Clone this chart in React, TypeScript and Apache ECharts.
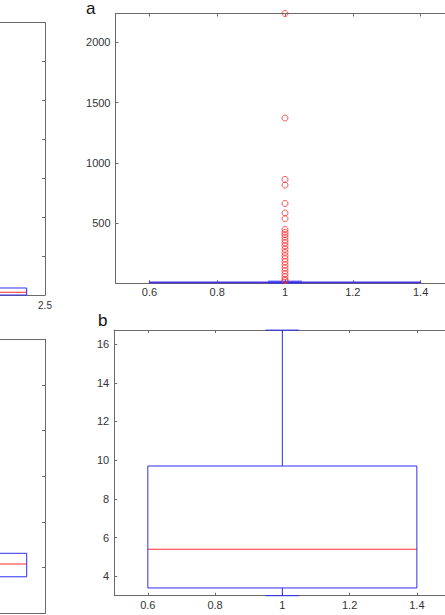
import React, { useEffect, useRef } from "react";
import * as echarts from "echarts";

// Tick positions and labels
const xTicks = [0.6, 0.8, 1, 1.2, 1.4];
const yTicksA = [500, 1000, 1500, 2000];
const yTicksB = [4, 6, 8, 10, 12, 14, 16];
const xLabelsLeft = [2.5];

// Box statistics: [group, lower whisker, Q1, median, Q3, upper whisker]
const boxStats = [1, 3.0, 3.4, 5.4, 9.7, 16.72];
// Values beyond the whiskers (panel a)
const outliers = [
  2240, 1372, 862, 815, 662, 583, 536, 446, 423, 404, 383, 358, 336, 311,
  283, 256, 228, 203, 178, 152, 127, 103, 78, 54, 31, 22,
];
const yMaxA = 2240;
const yRangeB = [3.0, 16.72];

// Neighbouring panels, second group of each
const leftTopBox = [2, 0, 0, 35, 90, 160];
const leftBottomBox = [2, 3.2, 4.0, 5.4, 6.57, 8.0];

const AXIS = "#6a6a6a";
const LABEL = "#333333";
const BLUE = "#2f2ff5";
const RED = "#ff2a2a";
const FONT = "Liberation Sans, Arial, Helvetica, sans-serif";
const BOX_HALF = 0.4;
const CAP_HALF = 0.05;

const renderBox = (_params: any, api: any) => {
  const x = api.value(0);
  const lo = api.value(1);
  const q1 = api.value(2);
  const med = api.value(3);
  const q3 = api.value(4);
  const hi = api.value(5);
  const c = (vx: number, vy: number) => api.coord([vx, vy]);
  const line = (a: number[], b: number[], color: string) => ({
    type: "line",
    shape: { x1: a[0], y1: a[1], x2: b[0], y2: b[1] },
    style: { stroke: color, lineWidth: 1 },
  });
  const tl = c(x - BOX_HALF, q3);
  const br = c(x + BOX_HALF, q1);
  return {
    type: "group",
    children: [
      line(c(x - BOX_HALF, med), c(x + BOX_HALF, med), RED),
      line(c(x, q3), c(x, hi), BLUE),
      line(c(x, q1), c(x, lo), BLUE),
      line(c(x - CAP_HALF, hi), c(x + CAP_HALF, hi), BLUE),
      line(c(x - CAP_HALF, lo), c(x + CAP_HALF, lo), BLUE),
      {
        type: "rect",
        shape: { x: tl[0], y: tl[1], width: br[0] - tl[0], height: br[1] - tl[1] },
        style: { fill: "none", stroke: BLUE, lineWidth: 1 },
      },
    ],
  };
};

const tickStyle = (values?: number[]) => ({
  show: true,
  inside: true,
  length: 3,
  lineStyle: { color: AXIS, width: 1 },
  ...(values ? { customValues: values } : {}),
});

const lineStyle = { show: true, onZero: false, lineStyle: { color: AXIS, width: 1 } };
const plain = (v: number) => String(v);

function makeX(
  gridIndex: number,
  min: number,
  max: number,
  tickValues: number[] | undefined,
  interval: number | undefined,
  labelValues: number[] | null,
  fontSize: number,
  margin: number
) {
  const base: any = {
    type: "value",
    gridIndex,
    min,
    max,
    splitLine: { show: false },
    axisLine: lineStyle,
    axisTick: tickStyle(tickValues),
  };
  if (interval !== undefined) base.interval = interval;
  const bottom = {
    ...base,
    position: "bottom",
    axisLabel: labelValues
      ? {
          show: true,
          customValues: labelValues,
          formatter: plain,
          color: LABEL,
          fontSize,
          fontFamily: FONT,
          margin,
        }
      : { show: false },
  };
  const top = { ...base, position: "top", axisLabel: { show: false } };
  return [bottom, top];
}

function makeY(
  gridIndex: number,
  min: number,
  max: number,
  tickValues: number[] | undefined,
  interval: number | undefined,
  showLabels: boolean
) {
  const base: any = {
    type: "value",
    gridIndex,
    min,
    max,
    splitLine: { show: false },
    axisLine: lineStyle,
    axisTick: tickStyle(tickValues),
  };
  if (interval !== undefined) base.interval = interval;
  const left = {
    ...base,
    position: "left",
    axisLabel: showLabels
      ? {
          show: true,
          customValues: tickValues,
          formatter: plain,
          color: LABEL,
          fontSize: 11,
          fontFamily: FONT,
          margin: 5,
        }
      : { show: false },
  };
  const right = { ...base, position: "right", axisLabel: { show: false } };
  return [left, right];
}

export default function App() {
  const ref = useRef<HTMLDivElement>(null);

  useEffect(() => {
    if (!ref.current) return;
    const chart = echarts.init(ref.current, undefined, { renderer: "svg" });

    const option: any = {
      animation: false,
      backgroundColor: "#ffffff",
      grid: [
        { left: 115.5, top: 13.5, width: 339, height: 269.7, outerBoundsMode: "none", containLabel: false },
        { left: 114.2, top: 330.1, width: 336.3, height: 265.6, outerBoundsMode: "none", containLabel: false },
        { left: -321, top: 22.7, width: 366, height: 272.3, outerBoundsMode: "none", containLabel: false },
        { left: -321, top: 339.3, width: 366, height: 274, outerBoundsMode: "none", containLabel: false },
      ],
      xAxis: [
        ...makeX(0, 0.5, 1.5, xTicks, undefined, xTicks, 11, 3),
        ...makeX(1, 0.5, 1.5, xTicks, undefined, xTicks, 11, 4),
        ...makeX(2, 0.5, 2.5, undefined, 0.5, xLabelsLeft, 10, 5),
        ...makeX(3, 0.5, 2.5, undefined, 0.5, null, 10, 5),
      ],
      yAxis: [
        ...makeY(0, 0, yMaxA, yTicksA, undefined, true),
        ...makeY(1, yRangeB[0], yRangeB[1], yTicksB, undefined, true),
        ...makeY(2, 0, 3500, undefined, 500, false),
        ...makeY(3, 0, 30, undefined, 5, false),
      ],
      series: [
        {
          type: "custom",
          xAxisIndex: 0,
          yAxisIndex: 0,
          renderItem: renderBox,
          encode: { x: 0, y: [1, 2, 3, 4, 5] },
          data: [boxStats],
          z: 2,
        },
        {
          type: "scatter",
          xAxisIndex: 0,
          yAxisIndex: 0,
          symbol: "circle",
          symbolSize: 6,
          itemStyle: { color: "rgba(0,0,0,0)", borderColor: RED, borderWidth: 1 },
          data: outliers.map((v) => [boxStats[0], v]),
          z: 3,
        },
        {
          type: "custom",
          xAxisIndex: 2,
          yAxisIndex: 2,
          renderItem: renderBox,
          encode: { x: 0, y: [1, 2, 3, 4, 5] },
          data: [boxStats],
        },
        {
          type: "custom",
          xAxisIndex: 4,
          yAxisIndex: 4,
          renderItem: renderBox,
          encode: { x: 0, y: [1, 2, 3, 4, 5] },
          data: [leftTopBox],
        },
        {
          type: "custom",
          xAxisIndex: 6,
          yAxisIndex: 6,
          renderItem: renderBox,
          encode: { x: 0, y: [1, 2, 3, 4, 5] },
          data: [leftBottomBox],
        },
      ],
      graphic: [
        {
          type: "text",
          style: {
            x: 86,
            y: 8,
            text: "a",
            fontSize: 17,
            fontFamily: FONT,
            fill: "#111111",
            verticalAlign: "middle",
          },
        },
        {
          type: "text",
          style: {
            x: 98,
            y: 320.5,
            text: "b",
            fontSize: 17,
            fontFamily: FONT,
            fill: "#111111",
            verticalAlign: "middle",
          },
        },
      ],
    };

    chart.setOption(option);
    return () => chart.dispose();
  }, []);

  return (
    <div
      ref={ref}
      style={{ position: "absolute", left: 0, top: 0, width: 445, height: 615, background: "#fff" }}
    />
  );
}
